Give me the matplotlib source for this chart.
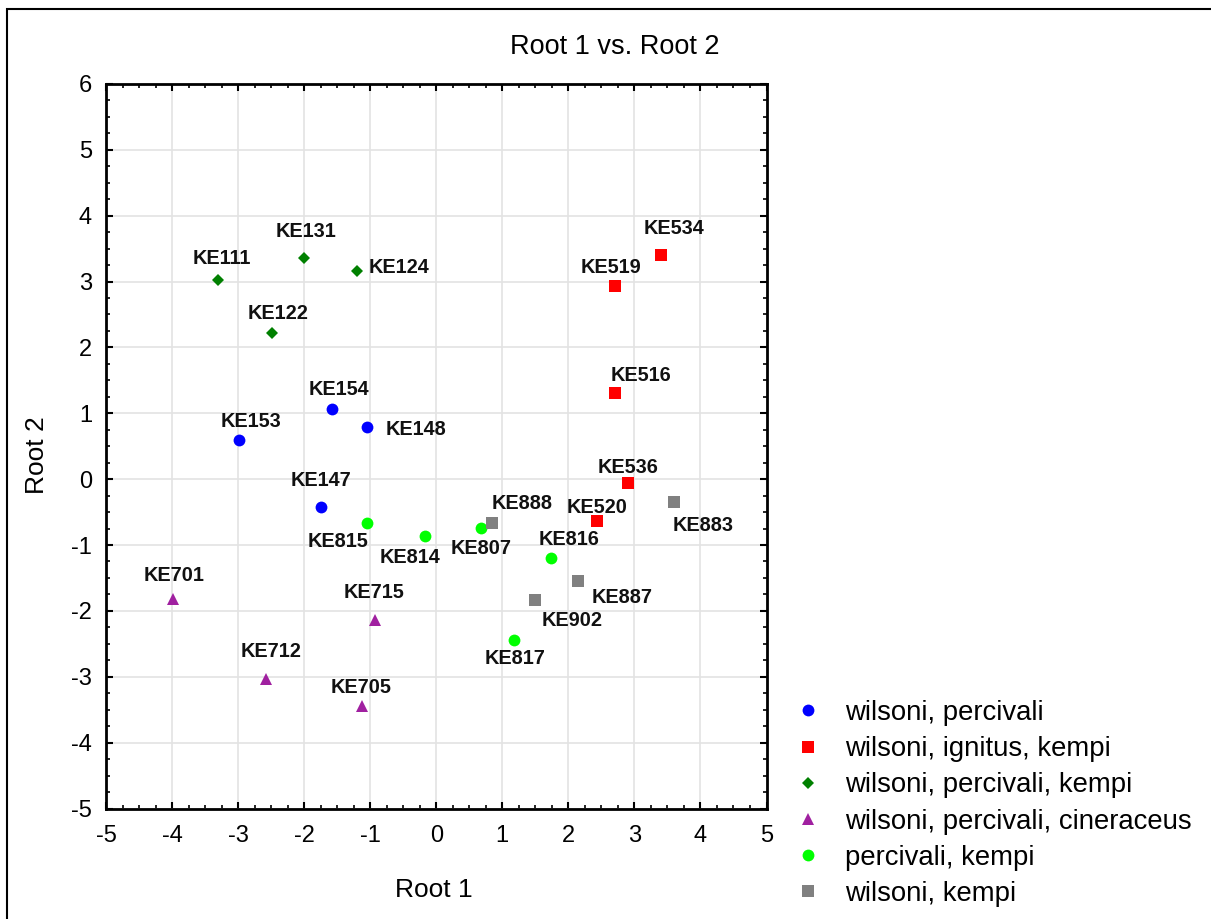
import matplotlib
matplotlib.use("Agg")
import matplotlib.pyplot as plt
from matplotlib.patches import Rectangle
from matplotlib.ticker import MultipleLocator

plt.rcParams['font.family'] = ['Liberation Sans', 'DejaVu Sans']

# ---- data ----
group_names = ["wilsoni, percivali", "wilsoni, ignitus, kempi", "wilsoni, percivali, kempi",
               "wilsoni, percivali, cineraceus", "percivali, kempi", "wilsoni, kempi"]

g1_labels = ["KE153", "KE154", "KE148", "KE147"]
g1_x = [-2.99, -1.58, -1.05, -1.75]
g1_y = [0.60, 1.07, 0.79, -0.42]

g2_labels = ["KE534", "KE519", "KE516", "KE536", "KE520"]
g2_x = [3.40, 2.71, 2.71, 2.91, 2.43]
g2_y = [3.41, 2.93, 1.31, -0.06, -0.63]

g3_labels = ["KE111", "KE131", "KE124", "KE122"]
g3_x = [-3.30, -2.00, -1.20, -2.49]
g3_y = [3.03, 3.35, 3.16, 2.22]

g4_labels = ["KE701", "KE715", "KE712", "KE705"]
g4_x = [-3.99, -0.92, -2.58, -1.12]
g4_y = [-1.82, -2.14, -3.04, -3.45]

g5_labels = ["KE815", "KE814", "KE807", "KE816", "KE817"]
g5_x = [-1.05, -0.17, 0.68, 1.74, 1.17]
g5_y = [-0.66, -0.87, -0.74, -1.19, -2.44]

g6_labels = ["KE888", "KE883", "KE887", "KE902"]
g6_x = [0.85, 3.60, 2.14, 1.50]
g6_y = [-0.66, -0.34, -1.55, -1.83]

# ---- styles / layout ----
styles = [
    dict(marker='o', color='#0000FF', ms=8.5),
    dict(marker='s', color='#FF0000', ms=8.3),
    dict(marker='D', color='#008000', ms=6.2),
    dict(marker='^', color='#A020A0', ms=8.5),
    dict(marker='o', color='#00FF00', ms=8.5),
    dict(marker='s', color='#808080', ms=8.3),
]

# label offsets in pixels (dx, dy up) for each label
label_offsets = {
    "KE111": (4, 21), "KE131": (2, 27), "KE124": (42, 3), "KE122": (6, 19),
    "KE154": (7, 19), "KE148": (49, -2), "KE153": (12, 18), "KE147": (0, 26),
    "KE534": (13, 26), "KE519": (-4, 19), "KE516": (26, 17), "KE536": (0, 16),
    "KE883": (29, -24), "KE520": (0, 13), "KE888": (30, 19),
    "KE815": (-29, -19), "KE814": (-15, -21), "KE807": (0, -21), "KE816": (18, 18),
    "KE887": (45, -16), "KE902": (37, -21), "KE817": (2, -19),
    "KE701": (1, 24), "KE715": (-1, 28), "KE712": (5, 28), "KE705": (-1, 19),
}

groups = [(g1_labels, g1_x, g1_y), (g2_labels, g2_x, g2_y), (g3_labels, g3_x, g3_y),
          (g4_labels, g4_x, g4_y), (g5_labels, g5_x, g5_y), (g6_labels, g6_x, g6_y)]

W, H = 1211, 919
fig = plt.figure(figsize=(W / 100, H / 100), dpi=100)
ax = fig.add_axes([106.0 / W, 1 - 808.5 / H, (766.5 - 106.0) / W, (808.5 - 83.9) / H])

handles = []
for (labs, xs, ys), name, st in zip(groups, group_names, styles):
    h, = ax.plot(xs, ys, linestyle='none', marker=st['marker'], color=st['color'],
                 markersize=st['ms'], markeredgewidth=0, label=name, zorder=3)
    handles.append(h)
    for lab, x, y in zip(labs, xs, ys):
        dx, dy = label_offsets[lab]
        ax.annotate(lab, (x, y), xytext=(dx, dy), textcoords='offset pixels',
                    ha='center', va='center', fontsize=14.3, fontweight='bold',
                    color='#111111', zorder=4)

ax.set_xlim(-5, 5)
ax.set_ylim(-5, 6)
ax.xaxis.set_major_locator(MultipleLocator(1))
ax.yaxis.set_major_locator(MultipleLocator(1))
ax.xaxis.set_minor_locator(MultipleLocator(0.25))
ax.yaxis.set_minor_locator(MultipleLocator(0.25))
ax.tick_params(which='both', direction='in', top=True, right=True, color='black')
ax.tick_params(which='major', length=5, width=1.5, labelsize=17, pad=10)
ax.tick_params(axis='x', which='major', pad=12)
ax.tick_params(which='minor', length=3, width=1.2)
ax.grid(True, which='major', color='#e3e3e3', linewidth=1.2, zorder=0)
ax.set_axisbelow(True)
for sp in ax.spines.values():
    sp.set_linewidth(2)

ax.set_xticklabels([str(int(v)) for v in ax.get_xticks()])
ax.set_yticklabels([str(int(v)) for v in ax.get_yticks()])

fig.text(434 / W, 1 - 890 / H, "Root 1", ha='center', va='center', fontsize=19)
fig.text(37 / W, 1 - 455 / H, "Root 2", ha='center', va='center', rotation=90, fontsize=19)
fig.text(615 / W, 1 - 47 / H, "Root 1 vs. Root 2", ha='center', va='center', fontsize=19.5)

leg = fig.legend(handles=handles, loc='upper left', bbox_to_anchor=(794.5 / W, 1 - 700 / H),
                 frameon=False, fontsize=19.8, handlelength=1.0, handletextpad=0.85,
                 labelspacing=0.37, borderpad=0, borderaxespad=0, markerscale=1.0)

# outer frame (right/bottom edges cut off in the reference)
fig.patches.append(Rectangle((7 / W, -0.2), 1.5, 1.2 - 9 / H, transform=fig.transFigure,
                             fill=False, edgecolor='black', linewidth=1.5))

fig.savefig("out.png", dpi=100)
